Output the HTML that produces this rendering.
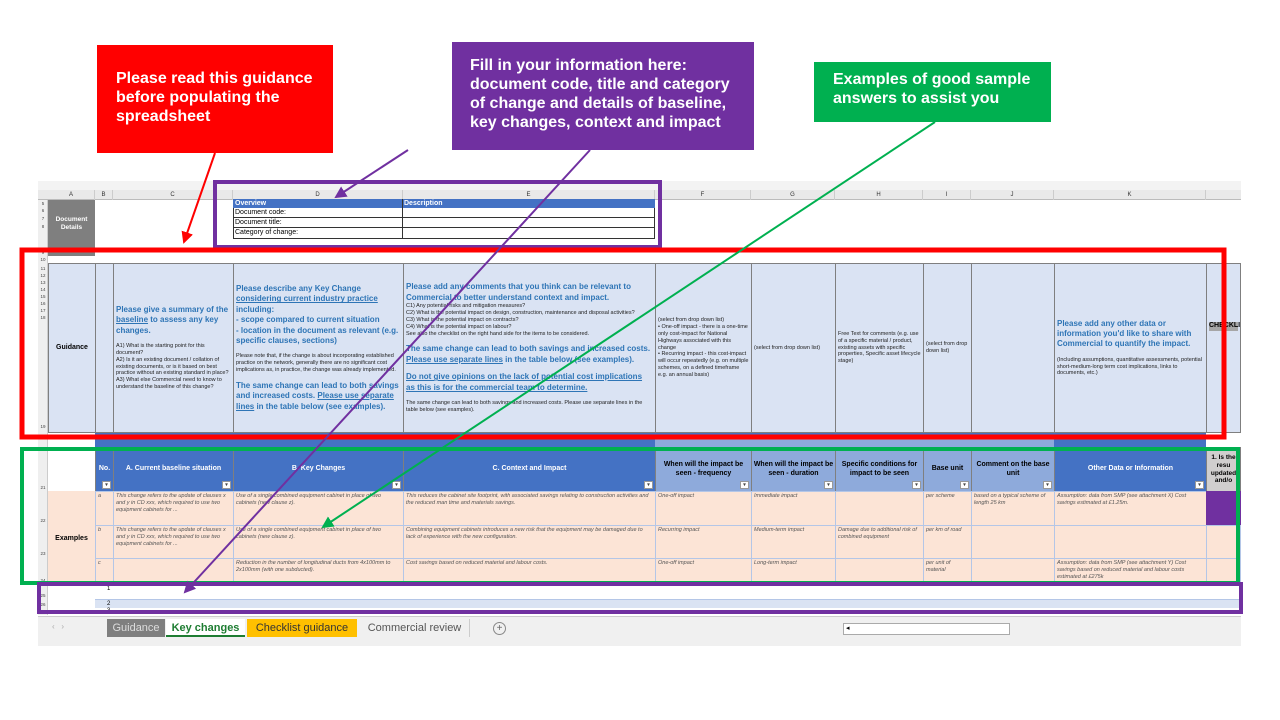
<!DOCTYPE html>
<html><head><meta charset="utf-8"><style>
*{margin:0;padding:0;box-sizing:border-box}
body{width:1280px;height:720px;background:#fff;position:relative;overflow:hidden;font-family:"Liberation Sans",sans-serif}
.a{position:absolute}
.c{position:absolute;border:1px solid #7f7f7f;overflow:hidden}
.g{background:#dae3f3;font-size:5.5px;line-height:1.25;padding:1px 2px;color:#222;display:flex;flex-direction:column;justify-content:center}
.bl{color:#2e75b6;font-weight:bold;font-size:8px;line-height:1.3}
.u{text-decoration:underline}
.h{font-size:7px;font-weight:bold;display:flex;align-items:center;justify-content:center;text-align:center;line-height:1.2}
.hd{background:#4472c4;color:#fff}
.hl{background:#8eaadb;color:#000}
.ex{background:#fce4d6;border-color:#b4c6e7;font-size:5.5px;font-style:italic;color:#555;padding:1px 2px;line-height:1.3}
.dd{position:absolute;right:2px;bottom:2px;width:9px;height:8px;background:#fff;border:1px solid #999;font-size:5px;color:#444;text-align:center;line-height:6px}
.col{position:absolute;top:190px;height:10px;border-right:1px solid #ccc;font-size:6px;color:#333;text-align:center;line-height:10px}
.rn{position:absolute;left:38px;width:10px;font-size:4.5px;color:#444;text-align:center}
.ann{position:absolute;color:#fff;font-weight:bold;font-size:16px;line-height:19px;font-family:"Liberation Sans Narrow","Liberation Sans",sans-serif}
</style></head><body>

<div class="a" style="left:38px;top:181px;width:1203px;height:464px;background:#fff"></div>
<div class="a" style="left:38px;top:181px;width:1203px;height:9px;background:#f3f3f3"></div>
<div class="a" style="left:38px;top:190px;width:1203px;height:10px;background:#e9e9e9;border-bottom:1px solid #bbb"></div>
<div class="col" style="left:48px;width:47px">A</div>
<div class="col" style="left:95px;width:18px">B</div>
<div class="col" style="left:113px;width:120px">C</div>
<div class="col" style="left:233px;width:170px">D</div>
<div class="col" style="left:403px;width:252px">E</div>
<div class="col" style="left:655px;width:96px">F</div>
<div class="col" style="left:751px;width:84px">G</div>
<div class="col" style="left:835px;width:88px">H</div>
<div class="col" style="left:923px;width:48px">I</div>
<div class="col" style="left:971px;width:83px">J</div>
<div class="col" style="left:1054px;width:152px">K</div>
<div class="a" style="left:38px;top:200px;width:10px;height:415px;background:#efefef;border-right:1px solid #ccc"></div>
<div class="rn" style="top:201px">5</div><div class="rn" style="top:208px">6</div><div class="rn" style="top:216px">7</div><div class="rn" style="top:224px">8</div>
<div class="rn" style="top:250px">9</div><div class="rn" style="top:257px">10</div>
<div class="rn" style="top:266px">11</div><div class="rn" style="top:273px">12</div><div class="rn" style="top:280px">13</div><div class="rn" style="top:287px">14</div><div class="rn" style="top:294px">15</div><div class="rn" style="top:301px">16</div><div class="rn" style="top:308px">17</div><div class="rn" style="top:315px">18</div><div class="rn" style="top:424px">19</div>
<div class="rn" style="top:485px">21</div><div class="rn" style="top:518px">22</div><div class="rn" style="top:551px">23</div><div class="rn" style="top:578px">24</div><div class="rn" style="top:593px">25</div><div class="rn" style="top:602px">26</div><div class="rn" style="top:609px">27</div>

<div class="a" style="left:48px;top:200px;width:47px;height:56px;background:#7f7f7f;color:#fff;font-size:6.5px;font-weight:bold;text-align:center;padding-top:16px;line-height:1.3">Document<br>Details</div>
<div class="a" style="left:233px;top:199px;width:422px;height:40px;border:1px solid #333"></div>
<div class="a" style="left:233px;top:199px;width:422px;height:9px;background:#4472c4;color:#fff;font-size:7px;font-weight:bold;line-height:9px"><span style="padding-left:2px">Overview</span><span style="position:absolute;left:171px">Description</span></div>
<div class="a" style="left:402px;top:199px;width:1px;height:40px;background:#333"></div>
<div class="a" style="left:233px;top:208px;width:422px;height:10px;border-bottom:1px solid #333;font-size:7px;line-height:10px;padding-left:2px">Document code:</div>
<div class="a" style="left:233px;top:218px;width:422px;height:10px;border-bottom:1px solid #333;font-size:7px;line-height:10px;padding-left:2px">Document title:</div>
<div class="a" style="left:233px;top:228px;width:422px;height:10px;font-size:7px;line-height:10px;padding-left:2px">Category of change:</div>

<div class="c g" style="left:48px;top:263px;width:48px;height:170px;align-items:center;font-size:7px;font-weight:bold;color:#000">Guidance</div>
<div class="c g" style="left:95px;top:263px;width:19px;height:170px"></div>
<div class="c g" style="left:113px;top:263px;width:121px;height:170px">
<div class="bl">Please give a summary of the <span class="u">baseline</span> to assess any key changes.</div><br>
<div>A1) What is the starting point for this document?<br>A2) Is it an existing document / collation of existing documents, or is it based on best practice without an existing standard in place?<br>A3) What else Commercial need to know to understand the baseline of this change?</div></div>
<div class="c g" style="left:233px;top:263px;width:171px;height:170px">
<div class="bl">Please describe any Key Change <span class="u">considering current industry practice</span> including:<br>- scope compared to current situation<br>- location in the document as relevant (e.g. specific clauses, sections)</div><br>
<div>Please note that, if the change is about incorporating established practice on the network, generally there are no significant cost implications as, in practice, the change was already implemented.</div><br>
<div class="bl">The same change can lead to both savings and increased costs. <span class="u">Please use separate lines</span> in the table below (see examples).</div></div>
<div class="c g" style="left:403px;top:263px;width:253px;height:170px">
<div class="bl">Please add any comments that you think can be relevant to Commercial to better understand context and impact.</div>
<div>C1) Any potential risks and mitigation measures?<br>C2) What is the potential impact on design, construction, maintenance and disposal activities?<br>C3) What is the potential impact on contracts?<br>C4) What is the potential impact on labour?<br>See also the checklist on the right hand side for the items to be considered.</div><br>
<div class="bl">The same change can lead to both savings and increased costs. <span class="u">Please use separate lines</span> in the table below (see examples).</div><br>
<div class="bl u">Do not give opinions on the lack of potential cost implications as this is for the commercial team to determine.</div><br>
<div>The same change can lead to both savings and increased costs. Please use separate lines in the table below (see examples).</div></div>
<div class="c g" style="left:655px;top:263px;width:97px;height:170px">(select from drop down list)<br>• One-off impact - there is a one-time only cost-impact for National Highways associated with this change<br>• Recurring impact - this cost-impact will occur repeatedly (e.g. on multiple schemes, on a defined timeframe e.g. an annual basis)</div>
<div class="c g" style="left:751px;top:263px;width:85px;height:170px">(select from drop down list)</div>
<div class="c g" style="left:835px;top:263px;width:89px;height:170px">Free Text for comments (e.g. use of a specific material / product, existing assets with specific properties, Specific asset lifecycle stage)</div>
<div class="c g" style="left:923px;top:263px;width:49px;height:170px">(select from drop down list)</div>
<div class="c g" style="left:971px;top:263px;width:84px;height:170px"></div>
<div class="c g" style="left:1054px;top:263px;width:153px;height:170px">
<div class="bl">Please add any other data or information you'd like to share with Commercial to quantify the impact.</div><br>
<div>(Including assumptions, quantitative assessments, potential short-medium-long term cost implications, links to documents, etc.)</div></div>
<div class="c g" style="left:1206px;top:263px;width:35px;height:170px;justify-content:flex-start;padding-top:58px"><div style="background:#a6a6a6;font-weight:bold;font-size:7px;color:#000">CHECKLIST</div></div>

<div class="a" style="left:95px;top:433px;width:1111px;height:14px;background:#4472c4"></div>
<div class="a" style="left:655px;top:433px;width:399px;height:14px;background:#8eaadb;border-top:5px solid #4472c4"></div>

<div class="c h hd" style="left:95px;top:447px;width:19px;height:45px">No.<span class="dd">▾</span></div>
<div class="c h hd" style="left:113px;top:447px;width:121px;height:45px">A. Current baseline situation<span class="dd">▾</span></div>
<div class="c h hd" style="left:233px;top:447px;width:171px;height:45px">B. Key Changes<span class="dd">▾</span></div>
<div class="c h hd" style="left:403px;top:447px;width:253px;height:45px">C. Context and Impact<span class="dd">▾</span></div>
<div class="c h hl" style="left:655px;top:447px;width:97px;height:45px">When will the impact be seen - frequency<span class="dd">▾</span></div>
<div class="c h hl" style="left:751px;top:447px;width:85px;height:45px">When will the impact be seen - duration<span class="dd">▾</span></div>
<div class="c h hl" style="left:835px;top:447px;width:89px;height:45px">Specific conditions for impact to be seen<span class="dd">▾</span></div>
<div class="c h hl" style="left:923px;top:447px;width:49px;height:45px">Base unit<span class="dd">▾</span></div>
<div class="c h hl" style="left:971px;top:447px;width:84px;height:45px">Comment on the base unit<span class="dd">▾</span></div>
<div class="c h hd" style="left:1054px;top:447px;width:153px;height:45px">Other Data or Information<span class="dd">▾</span></div>
<div class="c h" style="left:1206px;top:447px;width:35px;height:45px;background:#d0cece;font-size:6.5px">1. Is the resu updated and/o</div>

<div class="a" style="left:48px;top:491px;width:47px;height:94px;background:#fce4d6;font-size:7px;font-weight:bold;display:flex;align-items:center;justify-content:center">Examples</div>
<div class="c ex" style="left:95px;top:491px;width:19px;height:35px">a</div>
<div class="c ex" style="left:113px;top:491px;width:121px;height:35px">This change refers to the update of clauses x and y in CD xxx, which required to use two equipment cabinets for ...</div>
<div class="c ex" style="left:233px;top:491px;width:171px;height:35px">Use of a single combined equipment cabinet in place of two cabinets (new clause z).</div>
<div class="c ex" style="left:403px;top:491px;width:253px;height:35px">This reduces the cabinet site footprint, with associated savings relating to construction activities and the reduced man time and materials savings.</div>
<div class="c ex" style="left:655px;top:491px;width:97px;height:35px">One-off impact</div>
<div class="c ex" style="left:751px;top:491px;width:85px;height:35px">Immediate impact</div>
<div class="c ex" style="left:835px;top:491px;width:89px;height:35px"></div>
<div class="c ex" style="left:923px;top:491px;width:49px;height:35px">per scheme</div>
<div class="c ex" style="left:971px;top:491px;width:84px;height:35px">based on a typical scheme of length 25 km</div>
<div class="c ex" style="left:1054px;top:491px;width:153px;height:35px">Assumption: data from SMP (see attachment X) Cost savings estimated at £1.25m.</div>
<div class="a" style="left:1206px;top:491px;width:35px;height:34px;background:#7030a0"></div>

<div class="c ex" style="left:95px;top:525px;width:19px;height:34px">b</div>
<div class="c ex" style="left:113px;top:525px;width:121px;height:34px">This change refers to the update of clauses x and y in CD xxx, which required to use two equipment cabinets for ...</div>
<div class="c ex" style="left:233px;top:525px;width:171px;height:34px">Use of a single combined equipment cabinet in place of two cabinets (new clause z).</div>
<div class="c ex" style="left:403px;top:525px;width:253px;height:34px">Combining equipment cabinets introduces a new risk that the equipment may be damaged due to lack of experience with the new configuration.</div>
<div class="c ex" style="left:655px;top:525px;width:97px;height:34px">Recurring impact</div>
<div class="c ex" style="left:751px;top:525px;width:85px;height:34px">Medium-term impact</div>
<div class="c ex" style="left:835px;top:525px;width:89px;height:34px">Damage due to additional risk of combined equipment</div>
<div class="c ex" style="left:923px;top:525px;width:49px;height:34px">per km of road</div>
<div class="c ex" style="left:971px;top:525px;width:84px;height:34px"></div>
<div class="c ex" style="left:1054px;top:525px;width:153px;height:34px"></div>
<div class="c ex" style="left:1206px;top:525px;width:35px;height:34px"></div>

<div class="c ex" style="left:95px;top:558px;width:19px;height:28px">c</div>
<div class="c ex" style="left:113px;top:558px;width:121px;height:28px"></div>
<div class="c ex" style="left:233px;top:558px;width:171px;height:28px">Reduction in the number of longitudinal ducts from 4x100mm to 2x100mm (with one subducted).</div>
<div class="c ex" style="left:403px;top:558px;width:253px;height:28px">Cost savings based on reduced material and labour costs.</div>
<div class="c ex" style="left:655px;top:558px;width:97px;height:28px">One-off impact</div>
<div class="c ex" style="left:751px;top:558px;width:85px;height:28px">Long-term impact</div>
<div class="c ex" style="left:835px;top:558px;width:89px;height:28px"></div>
<div class="c ex" style="left:923px;top:558px;width:49px;height:28px">per unit of material</div>
<div class="c ex" style="left:971px;top:558px;width:84px;height:28px"></div>
<div class="c ex" style="left:1054px;top:558px;width:153px;height:28px">Assumption: data from SMP (see attachment Y) Cost savings based on reduced material and labour costs estimated at £275k</div>
<div class="c ex" style="left:1206px;top:558px;width:35px;height:28px"></div>

<div class="a" style="left:95px;top:585px;width:1146px;height:15px;border-bottom:1px solid #b4c6e7;font-size:6px;padding-left:12px;line-height:8px">1</div>
<div class="a" style="left:95px;top:600px;width:1146px;height:8px;background:#dae3f3;font-size:6px;padding-left:12px;line-height:8px">2</div>
<div class="a" style="left:95px;top:608px;width:1146px;height:8px;font-size:6px;padding-left:12px;line-height:6px">3</div>

<div class="a" style="left:38px;top:616px;width:1203px;height:24px;background:#f0f0f0;border-top:1px solid #ccc"></div>
<div class="a" style="left:52px;top:622px;font-size:8px;color:#aaa">‹ &nbsp; ›</div>
<div class="a" style="left:107px;top:619px;width:58px;height:18px;background:#7f7f7f;color:#ddd;font-size:11px;text-align:center;line-height:18px">Guidance</div>
<div class="a" style="left:166px;top:619px;width:79px;height:18px;background:#fff;color:#1e7d32;font-weight:bold;font-size:11px;text-align:center;line-height:18px;border-bottom:2px solid #1e7d32">Key changes</div>
<div class="a" style="left:247px;top:619px;width:110px;height:18px;background:#ffc000;color:#333;font-size:11px;text-align:center;line-height:18px">Checklist guidance</div>
<div class="a" style="left:360px;top:619px;width:110px;height:18px;color:#555;font-size:11px;text-align:center;line-height:18px;border-right:1px solid #ccc">Commercial review</div>
<div class="a" style="left:493px;top:622px;width:13px;height:13px;border:1px solid #888;border-radius:50%;font-size:10px;color:#666;text-align:center;line-height:11px">+</div>
<div class="a" style="left:843px;top:623px;width:167px;height:12px;background:#fff;border:1px solid #aaa;font-size:7px;line-height:10px;padding-left:2px">◂</div>
<div class="a" style="left:38px;top:640px;width:1203px;height:6px;background:#f0f0f0"></div>

<div class="a ann" style="left:97px;top:45px;width:236px;height:108px;background:#ff0000;padding:24px 0 0 19px">Please read this guidance<br>before populating the<br>spreadsheet</div>
<div class="a ann" style="left:452px;top:42px;width:302px;height:108px;background:#7030a0;padding:14px 0 0 18px">Fill in your information here:<br>document code, title and category<br>of change and details of baseline,<br>key changes, context and impact</div>
<div class="a ann" style="left:814px;top:62px;width:237px;height:60px;background:#00b050;padding:8px 0 0 19px">Examples of good sample<br>answers to assist you</div>

<svg class="a" style="left:0;top:0" width="1280" height="720">
<defs>
<marker id="mr" markerWidth="6" markerHeight="6" refX="5" refY="3" orient="auto"><path d="M0,0L6,3L0,6z" fill="#ff0000"/></marker>
<marker id="mp" markerWidth="6" markerHeight="6" refX="5" refY="3" orient="auto"><path d="M0,0L6,3L0,6z" fill="#7030a0"/></marker>
<marker id="mg" markerWidth="6" markerHeight="6" refX="5" refY="3" orient="auto"><path d="M0,0L6,3L0,6z" fill="#00b050"/></marker>
</defs>
<rect x="215" y="182" width="445" height="65" fill="none" stroke="#7030a0" stroke-width="4"/>
<rect x="22" y="250" width="1202" height="187" fill="none" stroke="#ff0000" stroke-width="5"/>
<rect x="22" y="449" width="1216" height="134" fill="none" stroke="#00b050" stroke-width="4"/>
<rect x="39" y="584" width="1202" height="28" fill="none" stroke="#7030a0" stroke-width="4"/>
<line x1="215" y1="153" x2="184" y2="242" stroke="#ff0000" stroke-width="2" marker-end="url(#mr)"/>
<line x1="408" y1="150" x2="336" y2="197" stroke="#7030a0" stroke-width="2" marker-end="url(#mp)"/>
<line x1="590" y1="150" x2="185" y2="592" stroke="#7030a0" stroke-width="2" marker-end="url(#mp)"/>
<line x1="935" y1="122" x2="323" y2="527" stroke="#00b050" stroke-width="2" marker-end="url(#mg)"/>
</svg>
</body></html>
